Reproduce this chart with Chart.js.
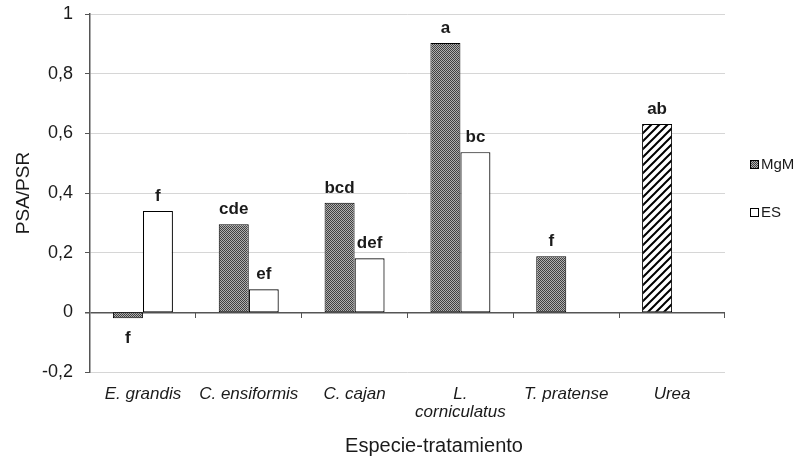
<!DOCTYPE html>
<html>
<head>
<meta charset="utf-8">
<script src="https://cdn.jsdelivr.net/npm/chart.js@4/dist/chart.umd.min.js"></script>
<style>
  html, body { margin: 0; padding: 0; background: #fff; }
  #wrap { width: 799px; height: 459px; }
</style>
</head>
<body>
<div id="wrap"><canvas id="c" width="799" height="459"></canvas></div>
<script>
// PSA/PSR ratio by species / treatment
const categories = ['E. grandis', 'C. ensiformis', 'C. cajan', ['L.', 'corniculatus'], 'T. pratense', 'Urea'];
const seriesNames = ['MgM', 'ES'];
const mgmValues = [-0.02, 0.295, 0.367, 0.903, 0.188, 0.631];
const esValues = [0.34, 0.077, 0.181, 0.537, null, null];
const mgmLetters = ['f', 'cde', 'bcd', 'a', 'f', 'ab'];
const esLetters = ['f', 'ef', 'def', 'bc', '', ''];
const yTickLabels = ['-0,2', '0', '0,2', '0,4', '0,6', '0,8', '1'];
const xAxisTitle = 'Especie-tratamiento';
const yAxisTitle = 'PSA/PSR';

const TEXT = '#1a1a1a';
const AXIS = '#555555';
const GRID = '#d6d6d6';

// fine checker fill for the MgM bars
function dotPattern() {
  const c = document.createElement('canvas');
  c.width = c.height = 2;
  const g = c.getContext('2d');
  g.fillStyle = '#b0b0b0';
  g.fillRect(0, 0, 2, 2);
  g.fillStyle = '#404040';
  g.fillRect(0, 0, 1, 1);
  g.fillRect(1, 1, 1, 1);
  return g.createPattern(c, 'repeat');
}

// diagonal hatch for the urea treatment
function hatchPattern() {
  const s = 8;
  const c = document.createElement('canvas');
  c.width = c.height = s;
  const g = c.getContext('2d');
  g.fillStyle = '#ffffff';
  g.fillRect(0, 0, s, s);
  g.strokeStyle = '#000000';
  g.lineWidth = 2;
  g.beginPath();
  g.moveTo(-1, s + 1); g.lineTo(s + 1, -1);
  g.moveTo(-2, 2); g.lineTo(2, -2);
  g.moveTo(s - 2, s + 2); g.lineTo(s + 2, s - 2);
  g.stroke();
  return g.createPattern(c, 'repeat');
}

const dots = dotPattern();
const hatch = hatchPattern();

// letters of significance above (or below) every bar
const letterPlugin = {
  id: 'letters',
  afterDatasetsDraw(chart) {
    const ctx = chart.ctx;
    const sets = [mgmLetters, esLetters];
    ctx.save();
    ctx.font = 'bold 17px Arial, "Liberation Sans", sans-serif';
    ctx.fillStyle = TEXT;
    ctx.textAlign = 'center';
    ctx.textBaseline = 'alphabetic';
    sets.forEach((letters, di) => {
      const meta = chart.getDatasetMeta(di);
      meta.data.forEach((el, i) => {
        const txt = letters[i];
        const v = chart.data.datasets[di].data[i];
        if (!txt || v === null) return;
        if (v >= 0) {
          ctx.fillText(txt, el.x, el.y - 10);
        } else {
          ctx.fillText(txt, el.x, el.y + 25);
        }
      });
    });
    ctx.restore();
  }
};

// legend on the right and the x-axis title
const sidePlugin = {
  id: 'side',
  afterDraw(chart) {
    const ctx = chart.ctx;
    ctx.save();
    const fills = [dots, '#ffffff'];
    const rows = [164, 212];
    ctx.font = '15px Arial, "Liberation Sans", sans-serif';
    ctx.textBaseline = 'middle';
    ctx.textAlign = 'left';
    seriesNames.forEach((name, i) => {
      const y = rows[i];
      ctx.fillStyle = fills[i];
      ctx.fillRect(750, y - 4, 8, 8);
      ctx.strokeStyle = '#000';
      ctx.lineWidth = 1;
      ctx.strokeRect(750.5, y - 3.5, 8, 8);
      ctx.fillStyle = TEXT;
      ctx.fillText(name, 761, y + 1);
    });
    ctx.font = '20px Arial, "Liberation Sans", sans-serif';
    ctx.textAlign = 'center';
    ctx.fillText(xAxisTitle, 434, 446);
    ctx.restore();
  }
};

new Chart(document.getElementById('c'), {
  type: 'bar',
  data: {
    labels: categories,
    datasets: [
      {
        label: seriesNames[0],
        data: mgmValues,
        xAxisID: 'x',
        yAxisID: 'y',
        backgroundColor: (c) => (c.dataIndex === 5 ? hatch : dots),
        borderColor: '#000',
        borderWidth: 1,
        borderSkipped: false
      },
      {
        label: seriesNames[1],
        data: esValues,
        xAxisID: 'x',
        yAxisID: 'y',
        backgroundColor: '#ffffff',
        borderColor: '#000',
        borderWidth: 1.2,
        borderSkipped: false
      }
    ]
  },
  options: {
    responsive: false,
    animation: false,
    devicePixelRatio: 1,
    categoryPercentage: 0.567,
    barPercentage: 1,
    layout: { padding: { top: 14, right: 74, left: 0, bottom: 0 } },
    plugins: {
      legend: { display: false },
      tooltip: { enabled: false }
    },
    scales: {
      x: {
        type: 'category',
        position: 'bottom',
        offset: true,
        grid: { display: false, drawTicks: false },
        border: { display: false },
        ticks: {
          color: TEXT,
          font: { family: 'Arial, "Liberation Sans", sans-serif', size: 17, style: 'italic', lineHeight: 1.08 },
          padding: 13,
          maxRotation: 0,
          autoSkip: false
        },
        afterFit: (s) => { s.height = 87; s.paddingLeft = 0; s.paddingRight = 0; }
      },
      x0: {
        type: 'category',
        labels: categories,
        position: { y: 0 },
        offset: true,
        grid: { offset: true, drawOnChartArea: false, tickLength: 6, color: AXIS, lineWidth: 1 },
        border: { display: false },
        ticks: { display: false }
      },
      y: {
        min: -0.2,
        max: 1,
        ticks: {
          stepSize: 0.2,
          color: TEXT,
          font: { family: 'Arial, "Liberation Sans", sans-serif', size: 18 },
          padding: 12,
          callback: (v, i) => yTickLabels[i]
        },
        grid: {
          color: (c) => (c.tick && Math.abs(c.tick.value) < 1e-9 ? AXIS : GRID),
          lineWidth: (c) => (c.tick && Math.abs(c.tick.value) < 1e-9 ? 1.5 : 1),
          tickColor: AXIS,
          tickLength: 5
        },
        border: { color: AXIS, width: 1.5 },
        title: {
          display: true,
          text: yAxisTitle,
          color: TEXT,
          font: { family: 'Arial, "Liberation Sans", sans-serif', size: 19 },
          padding: { top: 12, bottom: 0 }
        },
        afterFit: (s) => { s.width = 90; s.paddingTop = 0; s.paddingBottom = 0; }
      }
    }
  },
  plugins: [letterPlugin, sidePlugin]
});
</script>
</body>
</html>
